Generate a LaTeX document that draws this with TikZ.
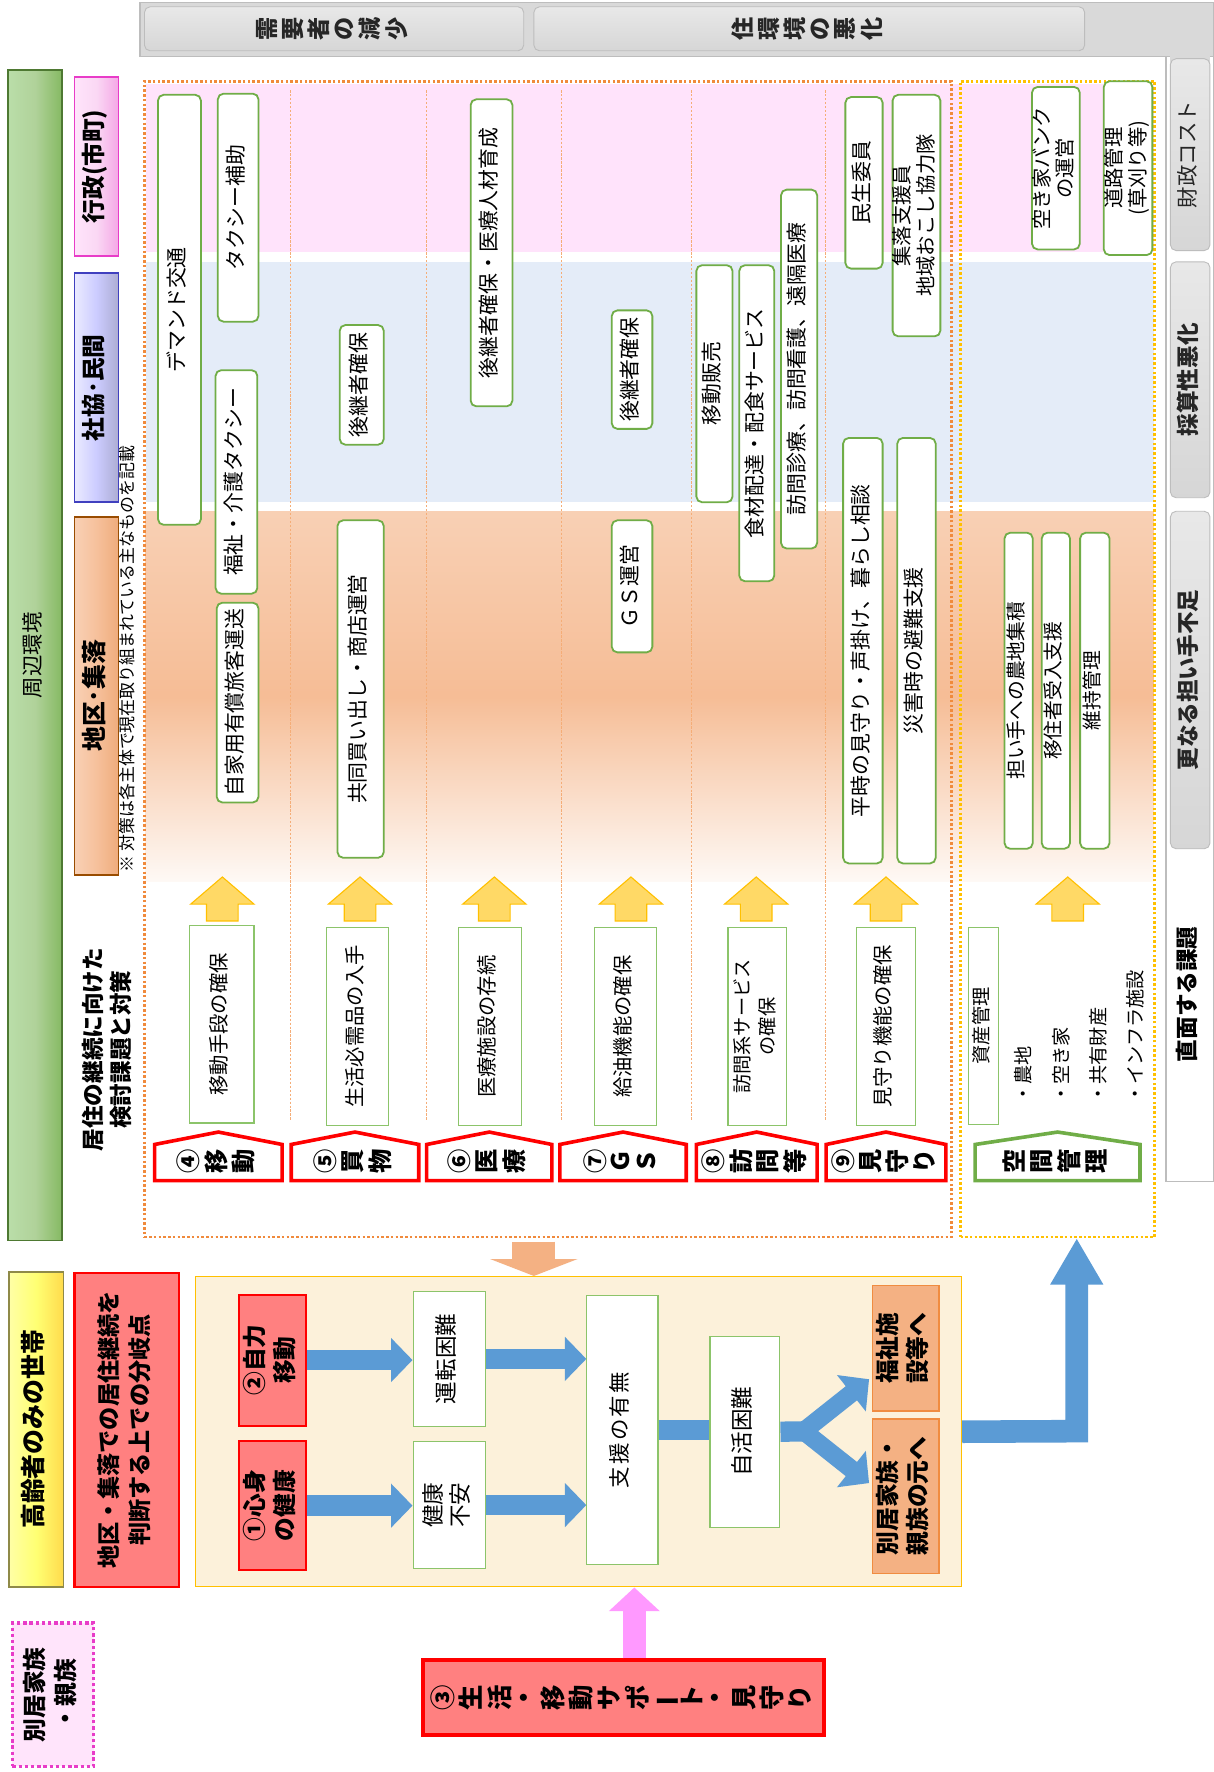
\documentclass[tikz,border=0pt]{standalone}
\usepackage{fontspec}
\setmainfont{Noto Sans CJK JP}
\usetikzlibrary{arrows.meta}
\definecolor{grn}{HTML}{70AD47}
\definecolor{grnl}{HTML}{8CC46A}
\definecolor{bpink}{HTML}{FFE3FB}
\definecolor{bblue}{HTML}{E4ECF8}
\definecolor{peach}{HTML}{F4B183}
\definecolor{bluearr}{HTML}{5B9BD5}
\definecolor{yarr}{HTML}{FFD966}
\definecolor{yarrb}{HTML}{FFC000}
\definecolor{redbox}{HTML}{FF8080}
\definecolor{creamc}{HTML}{FCF1DA}
\definecolor{gframe}{HTML}{D9D9D9}
\definecolor{gline}{HTML}{BDBDBD}
\definecolor{dotor}{HTML}{F08A3C}
\definecolor{dotye}{HTML}{FFC000}
\definecolor{pinkarr}{HTML}{FF99FF}
\definecolor{orbord}{HTML}{F08C40}
\definecolor{magb}{HTML}{E83CC8}
\definecolor{pinkfill}{HTML}{FFE4FB}
\newcommand\FS[2]{\fontsize{#1}{#2}\selectfont}
\newcommand\RT[1]{\rotatebox{90}{\begin{tabular}{@{}c@{}}#1\end{tabular}}}
\newcommand\RTL[1]{\rotatebox{90}{\begin{tabular}{@{}l@{}}#1\end{tabular}}}
\newcommand\mkbox[7]{%
  \pgfmathsetmacro\bxc{(#3+#5)/2}%
  \pgfmathsetmacro\byc{(#4+#6)/2}%
  \pgfmathsetmacro\bxw{#5-#3}%
  \pgfmathsetmacro\bxh{#6-#4}%
  \node[#1,minimum width=\bxw pt,minimum height=\bxh pt] (#2) at (\bxc,\byc) {#7};}
\newcommand\mktab[5]{%
  \pgfmathsetmacro\tbc{(#2+#3)/2}%
  \draw[line width=3.2pt,draw=#4,fill=white,line join=miter] (#2,1046) -- (#2,1014) -- (\tbc,1003) -- (#3,1014) -- (#3,1046) -- cycle;
  \node[tabtext] (#1) at (\tbc,1029) {#5};}
\newcommand\uparr[1]{%
  \draw[fill=yarr,draw=yarrb,line width=1pt] (#1-14,816) -- (#1-14,801) -- (#1-28,801) -- (#1,777) -- (#1+28,801) -- (#1+14,801) -- (#1+14,816) -- cycle;}
\tikzset{
  meas/.style={draw=grn,line width=1.6pt,fill=white,rounded corners=5pt,inner sep=0pt,font=\FS{18.5}{21}},
  issue/.style={draw=grnl,line width=1pt,fill=white,inner sep=0pt,font=\FS{18}{22}},
  redb/.style={draw=red,line width=1.8pt,fill=redbox,inner sep=0pt},
  redbthree/.style={draw=red,line width=3.2pt,fill=redbox,inner sep=0pt},
  whiteb/.style={draw=grnl,line width=1pt,fill=white,inner sep=0pt},
  orbox/.style={draw=orbord,line width=1.4pt,fill=peach,inner sep=0pt},
  grayb/.style={draw=gline,line width=0.8pt,rounded corners=5pt,top color=gray!18,bottom color=gray!32,inner sep=0pt,text=black!85},
  greenbar/.style={draw=black!30!grn,line width=1.2pt,left color=green!10!grn!45,right color=grn!85,middle color=grn!55,inner sep=0pt},
  yellowbar/.style={draw=yellow!50!black,line width=1.2pt,left color=yellow!35,right color=yellow!60!orange!70,middle color=yellow!55,inner sep=0pt},
  tabpink/.style={draw=magb,line width=1.4pt,left color=pinkfill,right color=magb!45,middle color=magb!20,inner sep=0pt},
  tabblue/.style={draw=blue!50!gray,line width=1.4pt,left color=blue!8,right color=blue!30!gray!50,middle color=blue!20,inner sep=0pt},
  taborange/.style={draw=orange!60!black,line width=1.4pt,left color=peach!60,right color=peach!90!brown,middle color=peach!80,inner sep=0pt},
  creamb/.style={draw=yarrb,line width=1pt,fill=creamc,inner sep=0pt},
  pinkb/.style={draw=magb,line width=3pt,dash pattern=on 3pt off 2.5pt,fill=pinkfill,inner sep=0pt},
  regor/.style={draw=dotor,line width=2.2pt,dash pattern=on 2.2pt off 2pt,inner sep=0pt},
  regye/.style={draw=dotye,line width=2.2pt,dash pattern=on 2.2pt off 2pt,inner sep=0pt},
  tabtext/.style={inner sep=0pt,font=\bfseries\FS{21.5}{20.5}},
  blk/.style={draw=bluearr,line width=18pt},
}
\begin{document}
\begin{tikzpicture}[x=1pt,y=-1pt]
\useasboundingbox (0,0) rectangle (1075,1570);
\fill[white] (0,0) rectangle (1075,1570);

% ---- gray frame
\fill[gframe] (124,2) rectangle (1075,50);
\draw[gline,line width=1pt] (124,2) rectangle (1075,50);
\draw[gline,line width=1.2pt,fill=white] (1033,50) rectangle (1075,1047);
\fill[gframe] (1037,49) rectangle (1072,60);
\mkbox{grayb}{demand}{128}{6}{464}{45}{\bfseries\FS{20.5}{20}\RT{需\\要\\者\\の\\減\\少}}
\mkbox{grayb}{jukan}{473}{6}{961}{45}{\bfseries\FS{20.5}{20}\RT{住\\環\\境\\の\\悪\\化}}
\mkbox{grayb}{zaisei}{1037}{52}{1072}{222}{\FS{19}{22}\RT{財政コスト}}
\mkbox{grayb}{saisan}{1037}{232}{1072}{441}{\bfseries\FS{20}{22}\RT{採算性悪化}}
\mkbox{grayb}{saranaru}{1037}{453}{1072}{752}{\bfseries\FS{20}{22}\RT{更なる担い手不足}}
\node[inner sep=0pt,font=\bfseries\FS{20}{22}] (chokumen) at (1054,881) {\RT{直面する課題}};

% ---- left column
\mkbox{greenbar}{shuhen}{7}{62}{55}{1099}{\FS{19}{22}\RT{周辺環境}}
\mkbox{tabpink}{gyosei}{66}{68}{105}{227}{\bfseries\FS{21}{22}\RT{行政(市町)}}
\mkbox{tabblue}{shakyo}{66}{242}{105}{445}{\bfseries\FS{21}{22}\RT{社協･民間}}
\mkbox{taborange}{chiku}{66}{458}{105}{775}{\bfseries\FS{22}{24}\RT{地区･集落}}
\node[inner sep=0pt,anchor=south,font=\FS{15}{18}] (note) at (115,773) {\RT{※ 対策は各主体で現在取り組まれている主なものを記載}};
\node[inner sep=0pt,font=\bfseries\FS{20}{25}] (kento) at (97,930) {\RT{居住の継続に向けた\\検討課題と対策}};

% ---- bands
\fill[bpink] (129,74) rectangle (1022,223);
\fill[bblue] (129,232) rectangle (1022,445);
\shade[top color=peach!60,bottom color=peach!8,middle color=peach!85] (129,453) rectangle (1022,781);
\foreach \sx in {257,378,497,613,731} {\draw[dotor!70,line width=0.7pt,dash pattern=on 2pt off 1.5pt] (\sx,80) -- (\sx,992);}

% ---- regions
\mkbox{regor}{mainreg}{128}{72}{843}{1096}{}
\mkbox{regye}{spreg}{851}{72}{1023}{1096}{}

% ---- measures
\mkbox{meas}{m1}{140}{84}{178}{465}{\RT{デマンド交通}}
\mkbox{meas}{m2}{193}{83}{229}{285}{\RT{タクシー補助}}
\mkbox{meas}{m3}{191}{328}{228}{526}{\RT{福祉・介護タクシー}}
\mkbox{meas}{m4}{192}{534}{229}{711}{\RT{自家用有償旅客運送}}
\mkbox{meas}{m5}{301}{288}{340}{394}{\RT{後継者確保}}
\mkbox{meas}{m6}{299}{461}{340}{760}{\RT{共同買い出し・商店運営}}
\mkbox{meas}{m7}{417}{88}{454}{360}{\RT{後継者確保・医療人材育成}}
\mkbox{meas}{m8}{542}{275}{578}{380}{\RT{後継者確保}}
\mkbox{meas}{m9}{542}{461}{578}{578}{\RT{ＧＳ運営}}
\mkbox{meas}{m10}{617}{235}{649}{445}{\RT{移動販売}}
\mkbox{meas}{m11}{655}{235}{686}{515}{\RT{食材配達・配食サービス}}
\mkbox{meas}{m12}{692}{168}{724}{486}{\RT{訪問診療、訪問看護、遠隔医療}}
\mkbox{meas}{m13}{749}{86}{782}{238}{\RT{民生委員}}
\mkbox{meas}{m14}{792}{84}{832}{298}{\FS{18}{20}\RT{集落支援員\\地域おこし協力隊}}
\mkbox{meas}{m15}{747}{388}{782}{765}{\RT{平時の見守り・声掛け、暮らし相談}}
\mkbox{meas}{m16}{795}{388}{829}{765}{\RT{災害時の避難支援}}
\mkbox{meas}{m17}{915}{77}{956}{221}{\FS{18}{20}\RT{空き家バンク\\の運営}}
\mkbox{meas}{m18}{979}{72}{1020}{226}{\FS{18}{21}\RT{道路管理\\(草刈り等)}}
\mkbox{meas}{m19}{890}{472}{915}{752}{\FS{17.5}{20}\RT{担い手への農地集積}}
\mkbox{meas}{m20}{923}{472}{948}{752}{\FS{17.5}{20}\RT{移住者受入支援}}
\mkbox{meas}{m21}{957}{472}{983}{752}{\FS{17.5}{20}\RT{維持管理}}

% ---- up arrows
\foreach \cx in {197,319,438,559,670,785,946} {\uparr{\cx}}

% ---- issues
\mkbox{issue}{i1}{168}{820}{225}{995}{\RT{移動手段の確保}}
\mkbox{issue}{i2}{289}{822}{344}{997}{\RT{生活必需品の入手}}
\mkbox{issue}{i3}{406}{822}{462}{997}{\RT{医療施設の存続}}
\mkbox{issue}{i4}{527}{822}{582}{997}{\RT{給油機能の確保}}
\mkbox{issue}{i5}{645}{822}{697}{997}{\FS{17}{22}\RT{訪問系サービス\\の確保}}
\mkbox{issue}{i6}{759}{822}{811}{997}{\RT{見守り機能の確保}}
\mkbox{issue}{i7}{858}{822}{885}{996}{\FS{17}{20}\RT{資産管理}}
\node[inner sep=0pt,anchor=south west,font=\FS{17}{33}] (shisanlist) at (890,978) {\RTL{・農地\\・空き家\\・共有財産\\・インフラ施設}};

% ---- tabs
\mktab{t4}{137}{250}{red}{\RT{④\\移\\動}}
\mktab{t5}{258}{371}{red}{\RT{⑤\\買\\物}}
\mktab{t6}{378}{489}{red}{\RT{⑥\\医\\療}}
\mktab{t7}{496}{608}{red}{\RT{⑦\\Ｇ\\Ｓ}}
\mktab{t8}{617}{724}{red}{\RT{⑧\\訪\\問\\等}}
\mktab{t9}{732}{838}{red}{\RT{⑨\\見\\守\\り}}
\mktab{tk}{864}{1010}{grn}{\RT{空\\間\\管\\理}}

% ---- bottom section
\mkbox{yellowbar}{koreisha}{8}{1127}{56}{1406}{\bfseries\FS{22}{24}\RT{高齢者のみの世帯}}
\mkbox{redb}{bunki}{66}{1128}{159}{1406}{\bfseries\FS{20.5}{27}\RT{地区・集落での居住継続を\\判断する上での分岐点}}
\mkbox{creamb}{cream}{173}{1131}{852}{1406}{}
\mkbox{redb}{jiriki}{212}{1147}{271}{1263}{\bfseries\FS{21}{27}\RT{②自力\\移動}}
\mkbox{redb}{shinshin}{212}{1277}{271}{1391}{\bfseries\FS{21}{27}\RT{①心身\\の健康}}
\mkbox{whiteb}{unten}{366}{1144}{430}{1264}{\FS{20}{24}\RT{運転困難}}
\mkbox{whiteb}{kenko}{366}{1277}{430}{1390}{\FS{20}{24}\RT{健康\\不安}}
\mkbox{whiteb}{shien}{520}{1148}{583}{1386}{\FS{19}{24}\RT{支\kern2pt 援\kern2pt の\kern2pt 有\kern2pt 無}}
\mkbox{whiteb}{jikatsu}{629}{1184}{691}{1353}{\FS{20}{24}\RT{自活困難}}
\mkbox{orbox}{fukushi}{773}{1139}{832}{1250}{\bfseries\FS{21}{26}\RT{福祉施\\設等へ}}
\mkbox{orbox}{motohe}{773}{1257}{832}{1394}{\bfseries\FS{21}{26}\RT{別居家族・\\親族の元へ}}
\mkbox{redbthree}{san}{375}{1471}{730}{1537}{\bfseries\FS{22.5}{21}\RT{③\\生\\活\\・\\移\\動\\サ\\ポ\\\rotatebox[origin=c]{90}{ー}\\ト\\・\\見\\守\\り}}
\mkbox{pinkb}{bekkyo}{11}{1438}{83}{1565}{\bfseries\FS{21}{27}\RT{別居家族\\・親族}}

% ---- connectors
\draw[blk,-{Triangle[length=19pt,width=38pt]}] (jiriki.east) -- (jiriki.east -| unten.west);
\draw[blk,-{Triangle[length=19pt,width=38pt]}] (unten.east) -- (unten.east -| shien.west);
\draw[blk,-{Triangle[length=19pt,width=38pt]}] (shinshin.east) -- (shinshin.east -| kenko.west);
\draw[blk,-{Triangle[length=19pt,width=38pt]}] (kenko.east) -- (kenko.east -| shien.west);
\draw[blk] (shien.east) -- (shien.east -| jikatsu.west);
\coordinate (fork) at (724,1268);
\coordinate (forkin) at (712,1268);
\coordinate (tU) at (770,1222);
\coordinate (tD) at (770,1314);
\draw[blk] (jikatsu.east) -- (fork);
\draw[draw=bluearr,line width=16pt,-{Triangle[length=20pt,width=40pt]}] (forkin) -- (tU);
\draw[draw=bluearr,line width=16pt,-{Triangle[length=20pt,width=40pt]}] (forkin) -- (tD);
\coordinate (bend) at (954,1268);
\draw[draw=bluearr,line width=20pt,line join=miter,-{Triangle[length=41pt,width=44pt]}] (cream.east) -- (bend) -- (bend |- spreg.south);
\coordinate (pkx) at (562,0);
\draw[draw=pinkarr,line width=20pt,-{Triangle[length=21pt,width=44pt]}] (san.north -| pkx) -- (cream.south -| pkx);
\coordinate (dkx) at (473,1100);
\draw[draw=peach,line width=38pt,-{Triangle[length=15pt,width=77pt]}] (dkx) -- (cream.north -| dkx);
\end{tikzpicture}
\end{document}
